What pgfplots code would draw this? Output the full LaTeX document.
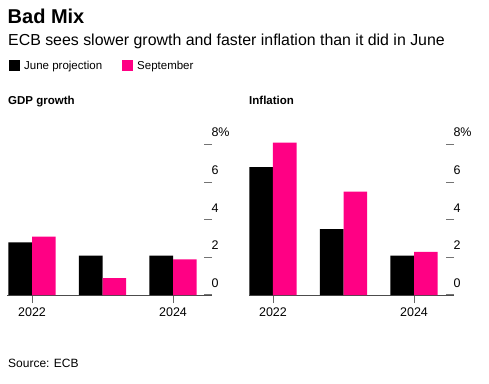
\documentclass[border=0pt]{standalone}
\usepackage{pgfplots}
\pgfplotsset{compat=1.18}
\usepackage{fontspec}
\setmainfont{Liberation Sans}
\definecolor{bpink}{RGB}{255,0,132}
\pgfplotsset{bbg/.style={
  scale only axis, width=205pt, height=159.8pt, ymin=0, ymax=8.5,
  axis x line*=bottom, axis y line*=right,
  y axis line style={draw=none},
  x axis line style={draw=black!70, line width=0.9pt},
  ybar=0pt, bar width=0.336,
  xtick={0,2}, xticklabels={2022,2024},
  ytick={0,2,4,6,8}, yticklabels={0,2,4,6,8\%},
  tick align=outside, major tick length=8pt,
  ytick style={draw=black!55, line width=1.2pt, xshift=-8pt},
  xtick style={draw=black!60, line width=0.8pt},
  tick label style={font=\fontsize{12.5}{15}\selectfont},
  yticklabel style={anchor=west, xshift=-12pt, yshift=12pt},
  xticklabel style={yshift=-1pt},
  /pgf/number format/assume math mode=true,
}}
\begin{document}
\begin{tikzpicture}
\path[use as bounding box] (0pt,0pt) rectangle (489pt,-383pt);
\node[anchor=base west, inner sep=0, font=\fontsize{20}{24}\selectfont\bfseries] at (7.5pt,-23pt) {Bad Mix};
\node[anchor=base west, inner sep=0, font=\fontsize{15.9}{18}\selectfont] at (8pt,-45.5pt) {ECB sees slower growth and faster inflation than it did in June};
\fill (9pt,-60pt) rectangle (20pt,-71pt);
\node[anchor=base west, inner sep=0, font=\fontsize{11.5}{14}\selectfont] at (24pt,-69.5pt) {June projection};
\fill[bpink] (122pt,-60pt) rectangle (133pt,-71pt);
\node[anchor=base west, inner sep=0, font=\fontsize{11.5}{14}\selectfont] at (137pt,-69.5pt) {September};
\node[anchor=base west, inner sep=0, font=\fontsize{11.5}{14}\selectfont\bfseries] at (8pt,-104pt) {GDP growth};
\node[anchor=base west, inner sep=0, font=\fontsize{11.5}{14}\selectfont\bfseries] at (249pt,-104pt) {Inflation};
\node[anchor=base west, inner sep=0, font=\fontsize{12}{14}\selectfont] at (8pt,-367pt) {Source: ECB};

\begin{axis}[bbg, at={(7pt,-295pt)}, anchor=south west, xmin=-0.355, xmax=2.553]
\addplot[fill=black, draw=none] coordinates {(0,2.8) (1,2.1) (2,2.1)};
\addplot[fill=bpink, draw=none] coordinates {(0,3.1) (1,0.9) (2,1.9)};
\end{axis}
\begin{axis}[bbg, at={(249pt,-295pt)}, anchor=south west, xmin=-0.34, xmax=2.567]
\addplot[fill=black, draw=none] coordinates {(0,6.8) (1,3.5) (2,2.1)};
\addplot[fill=bpink, draw=none] coordinates {(0,8.1) (1,5.5) (2,2.3)};
\end{axis}
\end{tikzpicture}
\end{document}
